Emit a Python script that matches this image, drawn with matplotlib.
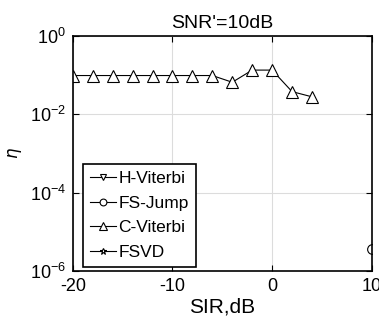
import matplotlib
matplotlib.use("Agg")
import matplotlib.pyplot as plt

# datos
sir_cviterbi = [-20, -18, -16, -14, -12, -10, -8, -6, -4, -2, 0, 2, 4]
eta_cviterbi = [0.098, 0.098, 0.098, 0.098, 0.098, 0.098, 0.098, 0.098,
                0.066, 0.135, 0.135, 0.038, 0.028]
sir_fsjump = [10]
eta_fsjump = [3.7e-6]
sir_hviterbi = []
eta_hviterbi = []
sir_fsvd = []
eta_fsvd = []

xticks = [-20, -10, 0, 10]
yexp = [0, -2, -4, -6]

plt.rcParams['font.family'] = ['Liberation Sans', 'DejaVu Sans']

fig = plt.figure(figsize=(3.79, 3.31), dpi=100)
ax = fig.add_axes([0.192, 0.182, 0.789, 0.709])

estilo = dict(color="black", lw=0.8, markerfacecolor="white",
              markeredgecolor="black", markeredgewidth=0.8)
ax.plot(sir_hviterbi, eta_hviterbi, marker="v", ms=7, label="H-Viterbi", **estilo)
ax.plot(sir_fsjump, eta_fsjump, marker="o", ms=7, label="FS-Jump", **estilo)
ax.plot(sir_cviterbi, eta_cviterbi, marker="^", ms=8, label="C-Viterbi", **estilo)
ax.plot(sir_fsvd, eta_fsvd, marker="*", ms=7, label="FSVD", **estilo)

ax.set_yscale("log")
ax.set_xlim(-20, 10)
ax.set_ylim(1e-6, 1e0)
ax.set_xticks(xticks)
ax.set_xticklabels([str(t) for t in xticks])
ax.set_yticks([10.0 ** e for e in yexp])
ax.set_yticklabels([r"$\mathregular{10^{%d}}$" % e for e in yexp])
ax.minorticks_off()
ax.tick_params(direction="in", top=True, right=True, labelsize=13, length=4,
               width=0.8, pad=5)
ax.grid(True, color="#dcdcdc", lw=0.8)
for s in ax.spines.values():
    s.set_linewidth(1.2)

ax.set_title("SNR'=10dB", fontsize=14, pad=6)
ax.set_xlabel("SIR,dB", fontsize=15, labelpad=2)
ax.set_ylabel(r"$\eta$", fontsize=12, labelpad=4)

leg = ax.legend(loc="lower left", bbox_to_anchor=(0.034, 0.016), fontsize=12.5,
                handlelength=1.5, handletextpad=0.15, borderpad=0.4,
                labelspacing=0.55, fancybox=False, framealpha=1,
                edgecolor="black", borderaxespad=0, markerscale=0.7)
leg.get_frame().set_linewidth(1.2)

fig.savefig("out.png", dpi=100)
